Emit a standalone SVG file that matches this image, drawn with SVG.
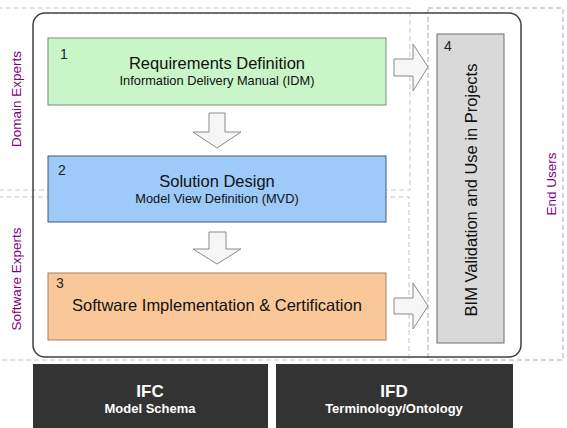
<svg xmlns="http://www.w3.org/2000/svg" width="567" height="428" viewBox="0 0 567 428">
<style>
text{font-family:"Liberation Sans",Arial,sans-serif}
.zone{fill:none;stroke:#c4c4d0;stroke-width:1;stroke-dasharray:5,3}
.zoneb{fill:none;stroke:#a8a8cc;stroke-width:1;stroke-dasharray:5,3}
.lane{fill:#800080;font-size:13.5px}
.num{fill:#222;font-size:14px}
.title{fill:#111;font-size:16.5px}
.sub{fill:#111;font-size:12.8px}
.arrow{fill:#f6f6f6;stroke:#8a8a8a;stroke-width:1}
.dark{fill:#333333}
.wt{fill:#ffffff;font-weight:bold}
</style>
<g id="zones">
<rect class="zone" x="-2" y="8" width="412" height="182"/>
<rect class="zone" x="-2" y="197" width="411" height="163"/>
<rect class="zoneb" x="428" y="8" width="135" height="352"/>
</g>
<g id="lanes">
<text class="lane" transform="translate(21,99) rotate(-90)" text-anchor="middle">Domain Experts</text>
<text class="lane" transform="translate(21,279) rotate(-90)" text-anchor="middle">Software Experts</text>
<text class="lane" transform="translate(556,184) rotate(-90)" text-anchor="middle">End Users</text>
</g>
<g id="frame">
<rect x="33" y="13" width="488" height="344" rx="12" ry="12" fill="none" stroke="#404040" stroke-width="1.5"/>
</g>
<g id="n1">
<rect x="48" y="38" width="338" height="67" fill="#c8f6c8" stroke="#7a8a7a" stroke-width="1"/>
<text class="num" x="60" y="59">1</text>
<text class="title" x="217" y="69" text-anchor="middle">Requirements Definition</text>
<text class="sub" x="217" y="85" text-anchor="middle">Information Delivery Manual (IDM)</text>
</g>
<g id="n2">
<rect x="48" y="156" width="338" height="66" fill="#9ecaf9" stroke="#44586e" stroke-width="1"/>
<text class="num" x="58" y="175">2</text>
<text class="title" x="217" y="187" text-anchor="middle">Solution Design</text>
<text class="sub" x="217" y="203" text-anchor="middle">Model View Definition (MVD)</text>
</g>
<g id="n3">
<rect x="48" y="273" width="338" height="67" fill="#fac898" stroke="#a0805e" stroke-width="1"/>
<text class="num" x="56" y="288">3</text>
<text class="title" x="217" y="311" text-anchor="middle">Software Implementation &amp; Certification</text>
</g>
<g id="n4">
<rect x="437" y="34" width="67" height="309" fill="#d9d9d9" stroke="#6e6e6e" stroke-width="1"/>
<text class="num" x="444" y="51">4</text>
<text class="title" transform="translate(477,190) rotate(-90)" text-anchor="middle">BIM Validation and Use in Projects</text>
</g>
<g id="connectors">
<polygon class="arrow" points="209,113 225,113 225,132 241,132 217,148 193,132 209,132"/>
<polygon class="arrow" points="209,232 226,232 226,249 241,249 217,264 193,249 209,249"/>
<polygon class="arrow" points="394,59 413,59 413,44 428,67 413,91 413,76 394,76"/>
<polygon class="arrow" points="394,298 413,298 413,283 428,306 413,329 413,314 394,314"/>
</g>
<g id="ifc">
<rect class="dark" x="33" y="364" width="235" height="64"/>
<text class="wt" x="150" y="397" text-anchor="middle" font-size="17">IFC</text>
<text class="wt" x="150" y="413" text-anchor="middle" font-size="13">Model Schema</text>
</g>
<g id="ifd">
<rect class="dark" x="276" y="364" width="237" height="64"/>
<text class="wt" x="394" y="397" text-anchor="middle" font-size="17">IFD</text>
<text class="wt" x="394" y="413" text-anchor="middle" font-size="13">Terminology/Ontology</text>
</g>
</svg>
